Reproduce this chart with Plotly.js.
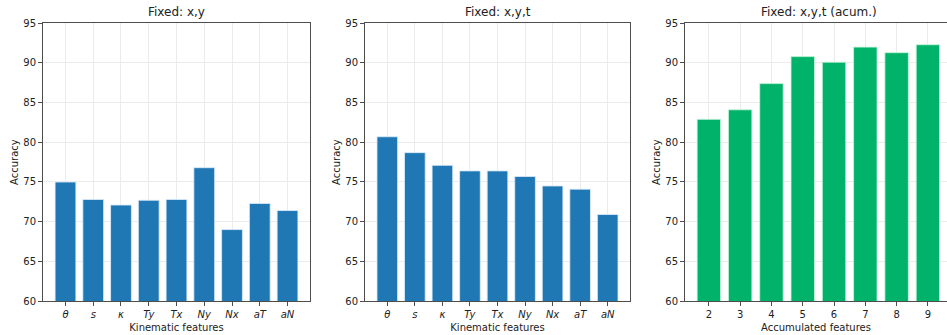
<!DOCTYPE html>
<html>
<head>
<meta charset="utf-8">
<script src="https://cdn.plot.ly/plotly-3.0.1.min.js"></script>
<style>html,body{margin:0;padding:0;background:#fff;}#chart{width:947px;height:335px;}</style>
</head>
<body>
<div id="chart"></div>
<script>
// Data
const kinematicFeatures = ['θ', 's', 'κ', 'Ty', 'Tx', 'Ny', 'Nx', 'aT', 'aN'];
const accFixedXY = [75.0, 72.8, 72.1, 72.7, 72.8, 76.8, 69.0, 72.3, 71.4];
const kinematicFeaturesXYT = ['θ', 's', 'κ', 'Ty', 'Tx', 'Ny', 'Nx', 'aT', 'aN'];
const accFixedXYT = [80.7, 78.7, 77.1, 76.4, 76.4, 75.7, 74.5, 74.1, 70.9];
const accumulatedFeatures = [2, 3, 4, 5, 6, 7, 8, 9];
const accFixedXYTAcum = [82.9, 84.1, 87.4, 90.8, 90.1, 92.0, 91.3, 92.3];
const yTicks = [60, 65, 70, 75, 80, 85, 90, 95];

const blue = '#1f77b4';
const green = '#00b26a';
const font = "DejaVu Sans";
const edge = {color: 'rgba(220,235,250,0.85)', width: 1};

const idx1 = kinematicFeatures.map((_, i) => i);
const idx2 = kinematicFeaturesXYT.map((_, i) => i);

const traces = [
  {type: 'bar', x: idx1, y: accFixedXY, width: 0.75, marker: {color: blue, line: edge}, xaxis: 'x', yaxis: 'y', hoverinfo: 'skip'},
  {type: 'bar', x: idx2, y: accFixedXYT, width: 0.75, marker: {color: blue, line: edge}, xaxis: 'x2', yaxis: 'y2', hoverinfo: 'skip'},
  {type: 'bar', x: accumulatedFeatures, y: accFixedXYTAcum, width: 0.75, marker: {color: green, line: {color: 'rgba(200,245,220,0.85)', width: 1}}, xaxis: 'x3', yaxis: 'y3', hoverinfo: 'skip'}
];

const ydom = [1 - 301/335, 1 - 23.3/335];
function xax(domain, range, extra) {
  return Object.assign({
    domain: domain, range: range,
    showgrid: true, gridcolor: '#ebebeb', gridwidth: 1,
    zeroline: false, showline: true, linecolor: '#4d4d4d', linewidth: 1, mirror: true,
    ticks: 'outside', ticklen: 4, tickwidth: 1, tickcolor: '#4d4d4d',
    tickfont: {family: font, size: 10, color: '#222'}
  }, extra);
}
function yax(anchor, mirror) {
  return {
    domain: ydom, range: [60, 95], anchor: anchor,
    tickvals: yTicks, showgrid: true, gridcolor: '#ebebeb', gridwidth: 1,
    zeroline: false, showline: true, linecolor: '#4d4d4d', linewidth: 1, mirror: mirror,
    ticks: 'outside', ticklen: 4, tickwidth: 1, tickcolor: '#4d4d4d',
    tickfont: {family: font, size: 10, color: '#222'},
    title: {text: 'Accuracy', font: {family: font, size: 10, color: '#222'}, standoff: 2}
  };
}
const xTitleFont = {family: font, size: 10, color: '#222'};

const layout = {
  width: 947, height: 335,
  margin: {l: 0, r: 0, t: 0, b: 0},
  paper_bgcolor: '#fff', plot_bgcolor: '#fff',
  showlegend: false,
  font: {family: font, size: 10, color: '#222'},
  xaxis: xax([43/947, 310/947], [-0.81, 8.81], {anchor: 'y', tickvals: idx1, ticktext: kinematicFeatures.map(s => '<i>' + s + '</i>'), title: {text: 'Kinematic features', font: xTitleFont, standoff: 4}}),
  yaxis: yax('x', true),
  xaxis2: xax([365/947, 630/947], [-0.81, 8.81], {anchor: 'y2', tickvals: idx2, ticktext: kinematicFeaturesXYT.map(s => '<i>' + s + '</i>'), title: {text: 'Kinematic features', font: xTitleFont, standoff: 4}}),
  yaxis2: yax('x2', true),
  xaxis3: xax([685/947, 1], [1.2375, 9.61], {anchor: 'y3', tickvals: accumulatedFeatures, title: {text: 'Accumulated features', font: xTitleFont, standoff: 4}}),
  yaxis3: yax('x3', false),
  annotations: [
    {text: 'Fixed: x,y', xref: 'paper', yref: 'paper', xanchor: 'center', yanchor: 'middle', x: (43 + 310) / 2 / 947, y: 1 - 12/335, showarrow: false, font: {family: font, size: 12, color: '#222'}},
    {text: 'Fixed: x,y,t', xref: 'paper', yref: 'paper', xanchor: 'center', yanchor: 'middle', x: (365 + 630) / 2 / 947, y: 1 - 12/335, showarrow: false, font: {family: font, size: 12, color: '#222'}},
    {text: 'Fixed: x,y,t (acum.)', xref: 'paper', yref: 'paper', xanchor: 'center', yanchor: 'middle', x: (685 + 952) / 2 / 947, y: 1 - 12/335, showarrow: false, font: {family: font, size: 12, color: '#222'}}
  ]
};

Plotly.newPlot('chart', traces, layout, {staticPlot: true, displayModeBar: false});
</script>
</body>
</html>
